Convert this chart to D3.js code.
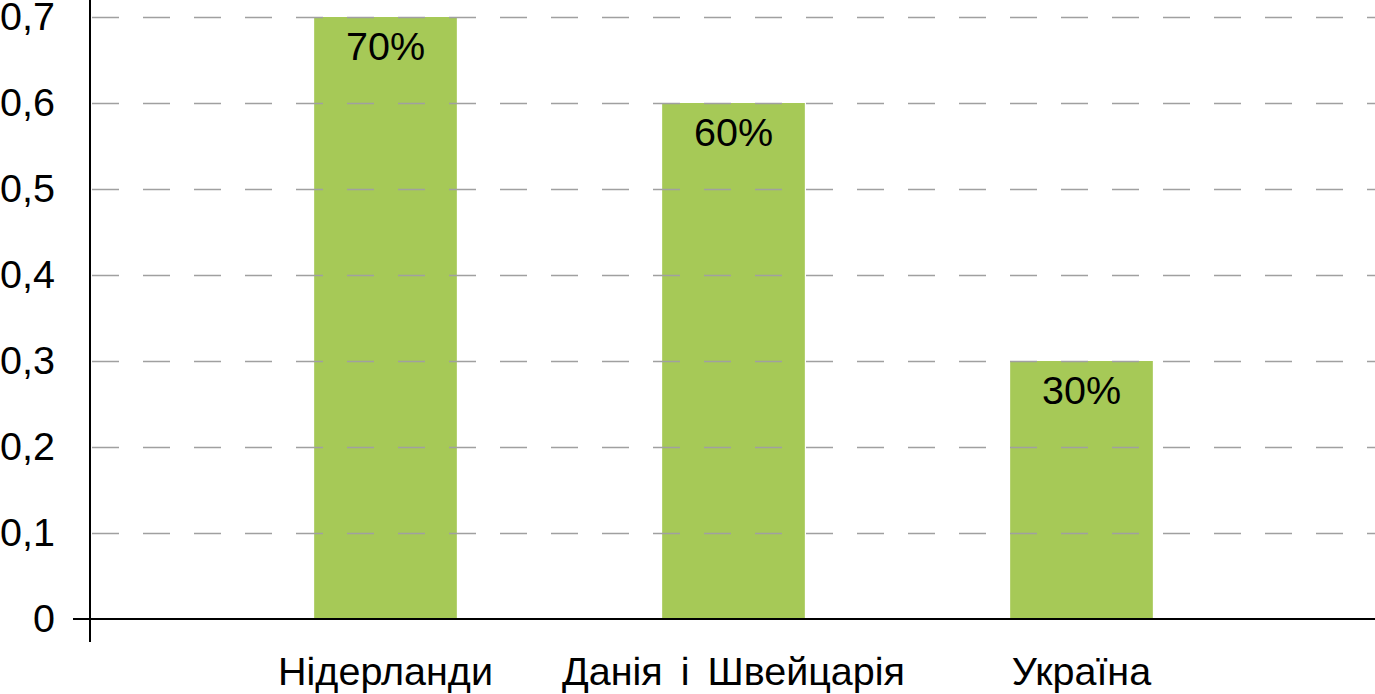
<!DOCTYPE html>
<html>
<head>
<meta charset="utf-8">
<script src="https://cdn.jsdelivr.net/npm/d3@7"></script>
<style>
  body { margin: 0; background: #fff; }
  svg { display: block; font-family: "Liberation Sans", Arial, sans-serif; }
</style>
</head>
<body>
<svg id="chart" width="1375" height="694"></svg>
<script>
// дані
var categories = ['Нідерланди', 'Данія і Швейцарія', 'Україна'];
var values = [0.7, 0.6, 0.3];
var barLabels = ['70%', '60%', '30%'];
var yTicks = [0, 0.1, 0.2, 0.3, 0.4, 0.5, 0.6, 0.7];

var svg = d3.select('#chart'),
  axisX = 90,
  baseY = 619,
  topY = 17,
  rightX = 1375,
  fontSize = 39.5;

var x = d3.scaleBand()
  .domain(categories)
  .range([211.5, 1255.5])
  .paddingInner(0.59)
  .paddingOuter(0.295);

var y = d3.scaleLinear()
  .domain([0, 0.7])
  .range([baseY, topY]);

// стовпці
svg.append('g').selectAll('rect')
  .data(values)
  .join('rect')
  .attr('x', (d, i) => x(categories[i]))
  .attr('width', x.bandwidth())
  .attr('y', d => y(d))
  .attr('height', d => baseY - y(d))
  .attr('fill', '#a6c957');

// сітка (пунктир)
svg.append('g').selectAll('line')
  .data(yTicks.filter(d => d > 0))
  .join('line')
  .attr('x1', axisX + 2)
  .attr('x2', rightX)
  .attr('y1', d => Math.round(y(d)) + 0.5)
  .attr('y2', d => Math.round(y(d)) + 0.5)
  .attr('stroke', '#a0a0a0')
  .attr('stroke-width', 1.3)
  .attr('stroke-dasharray', '27,24');

// підписи значень
svg.append('g').selectAll('text')
  .data(values)
  .join('text')
  .attr('x', (d, i) => x(categories[i]) + x.bandwidth() / 2)
  .attr('y', d => y(d) + 43)
  .attr('text-anchor', 'middle')
  .attr('font-size', fontSize)
  .attr('fill', '#000')
  .text((d, i) => barLabels[i]);

// вісь Y
var yAxis = d3.axisLeft(y)
  .tickValues(yTicks)
  .tickSize(0)
  .tickPadding(35)
  .tickFormat(d => d === 0 ? '0' : d3.format('.1f')(d).replace('.', ','));

var gy = svg.append('g')
  .attr('transform', 'translate(' + axisX + ',0)')
  .call(yAxis);
gy.select('.domain').remove();
gy.selectAll('text')
  .attr('font-size', fontSize)
  .attr('font-family', '"Liberation Sans", Arial, sans-serif')
  .attr('fill', '#000');

svg.append('line')
  .attr('x1', axisX).attr('x2', axisX)
  .attr('y1', 0).attr('y2', 642)
  .attr('stroke', '#000').attr('stroke-width', 2);

// вісь X
svg.append('line')
  .attr('x1', 73).attr('x2', rightX)
  .attr('y1', baseY).attr('y2', baseY)
  .attr('stroke', '#000').attr('stroke-width', 2.2);

var xAxis = d3.axisBottom(x).tickSize(0).tickPadding(38);
var gx = svg.append('g')
  .attr('transform', 'translate(0,' + baseY + ')')
  .call(xAxis);
gx.select('.domain').remove();
gx.selectAll('text')
  .attr('font-size', fontSize)
  .attr('font-family', '"Liberation Sans", Arial, sans-serif')
  .attr('fill', '#000')
  .style('word-spacing', '7px');
</script>
</body>
</html>
